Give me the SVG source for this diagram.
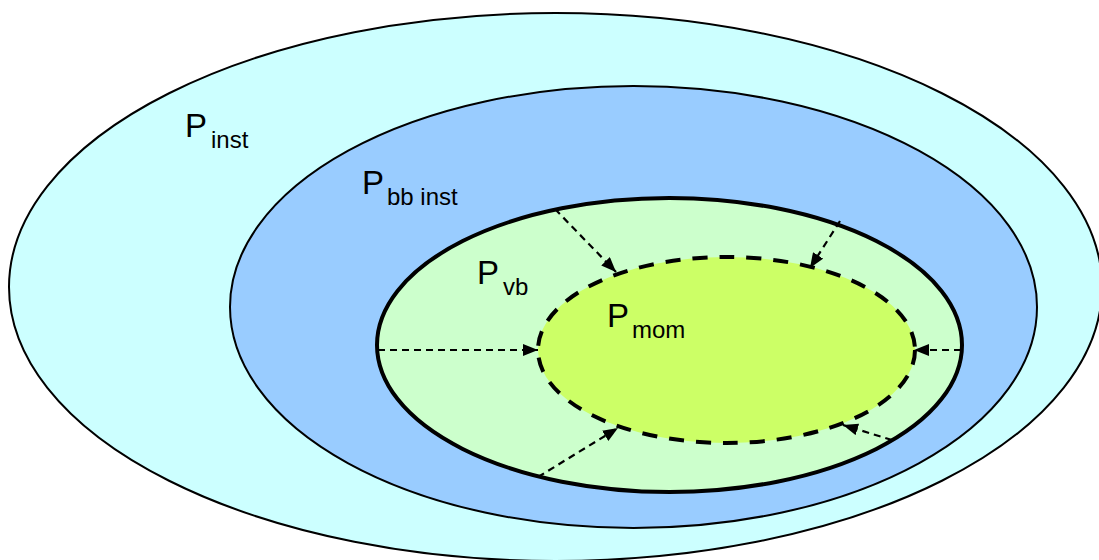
<svg xmlns="http://www.w3.org/2000/svg" width="1099" height="560" viewBox="0 0 1099 560">
<style>
.lbl{font-family:"Liberation Sans",Arial,sans-serif;fill:#000}
.big{font-size:33px}
.sub{font-size:24px}
.arr{fill:none;stroke:#000;stroke-width:2.2;stroke-dasharray:7 5;marker-end:url(#ah)}
</style>
<defs>
<marker id="ah" viewBox="0 0 15 12" refX="15" refY="6" markerWidth="15" markerHeight="12" markerUnits="userSpaceOnUse" orient="auto">
<path d="M0,0 L15,6 L0,12 z" fill="#000"/>
</marker>
</defs>
<rect width="1099" height="560" fill="#fff"/>
<g id="inst">
<ellipse cx="555.5" cy="287" rx="546.5" ry="274" fill="#CCFFFF" stroke="#000" stroke-width="2"/>
<text class="lbl big" x="185" y="137">P</text><text class="lbl sub" x="211" y="148">inst</text>
</g>
<g id="bbinst">
<ellipse cx="633.5" cy="307" rx="403.5" ry="221" fill="#99CCFF" stroke="#000" stroke-width="2"/>
<text class="lbl big" x="362" y="194">P</text><text class="lbl sub" x="387" y="205">bb inst</text>
</g>
<g id="vb">
<ellipse cx="669.5" cy="345" rx="292.5" ry="147" fill="#CCFFCC" stroke="#000" stroke-width="4"/>
<text class="lbl big" x="477" y="284">P</text><text class="lbl sub" x="503" y="295">vb</text>
</g>
<g id="mom">
<ellipse cx="726.5" cy="350" rx="188.5" ry="93" fill="#CCFF66" stroke="#000" stroke-width="4" stroke-dasharray="15 12"/>
<text class="lbl big" x="607" y="327">P</text><text class="lbl sub" x="632" y="338">mom</text>
</g>
<g id="connectors">
<line class="arr" x1="555" y1="209" x2="616" y2="272"/>
<line class="arr" x1="840" y1="221" x2="810" y2="268"/>
<line class="arr" x1="378" y1="350" x2="538" y2="350"/>
<line class="arr" x1="961" y1="350" x2="914" y2="350"/>
<line class="arr" x1="538" y1="477" x2="618" y2="428"/>
<line class="arr" x1="892" y1="440" x2="843" y2="425"/>
</g>
</svg>
